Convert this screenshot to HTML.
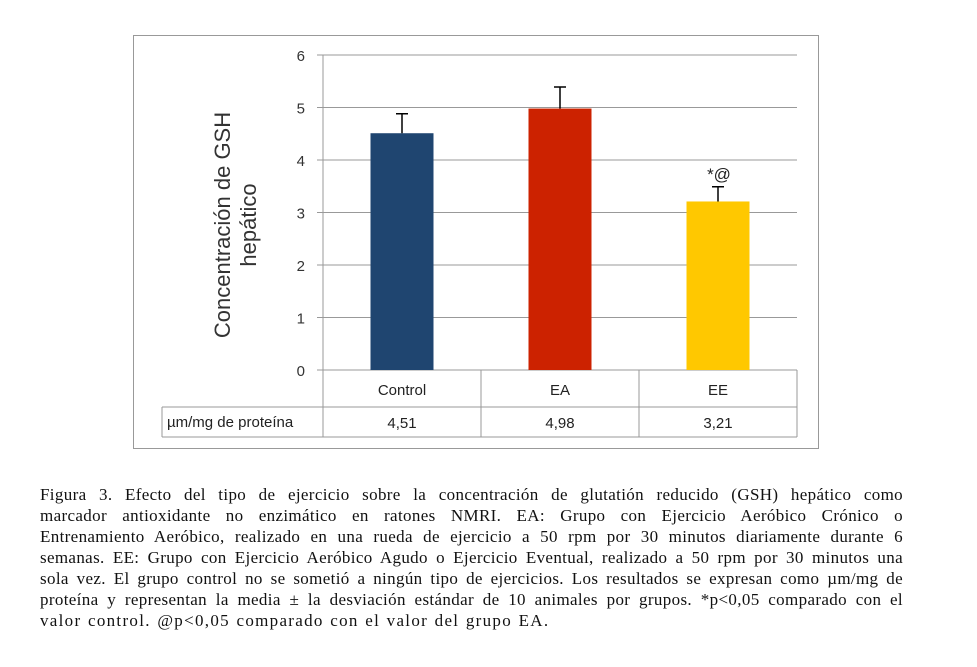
<!DOCTYPE html>
<html><head><meta charset="utf-8">
<style>
body{margin:0;width:977px;height:667px;background:#fff;overflow:hidden;position:relative;font-family:"Liberation Sans",sans-serif}
#cap{position:absolute;left:40px;top:484px;width:863px;font-family:"Liberation Serif",serif;font-size:16px;line-height:21px;color:#111;transform-origin:0 0}
#cap div{text-align:justify;text-align-last:justify;white-space:nowrap;letter-spacing:0.35px;word-spacing:-0.5px}
#cap div.last{text-align-last:left}
</style></head><body>
<svg id="chart" width="977" height="470" style="position:absolute;left:0;top:0" xmlns="http://www.w3.org/2000/svg"></svg>
<div id="cap">
<div style="font-size:17px">Figura 3. Efecto del tipo de ejercicio sobre la concentración de glutatión reducido (GSH) hepático como</div>
<div style="font-size:17px">marcador antioxidante no enzimático en ratones NMRI. EA: Grupo con Ejercicio Aeróbico Crónico o</div>
<div style="font-size:17px">Entrenamiento Aeróbico, realizado en una rueda de ejercicio a 50 rpm por 30 minutos diariamente durante 6</div>
<div style="font-size:17px">semanas. EE: Grupo con Ejercicio Aeróbico Agudo o Ejercicio Eventual, realizado a 50 rpm por 30 minutos una</div>
<div style="font-size:17px">sola vez. El grupo control no se sometió a ningún tipo de ejercicios. Los resultados se expresan como µm/mg de</div>
<div style="font-size:17px">proteína y representan la media ± la desviación estándar de 10 animales por grupos. *p&lt;0,05 comparado con el</div>
<div class="last" style="font-size:17px;letter-spacing:1.3px;word-spacing:1px">valor control. @p&lt;0,05 comparado con el valor del grupo EA.</div>
</div>
<script>
const categories=["Control","EA","EE"];
const values=[4.51,4.98,3.21];
const errTops=[4.88,5.39,3.49];
const valueLabels=["4,51","4,98","3,21"];
const colors=["#1f4570","#cc2200","#ffc800"];
const ticks=[0,1,2,3,4,5,6];
const annotations=["","","*@"];
const NS="http://www.w3.org/2000/svg";
const svg=document.getElementById('chart');
const X0=323,X1=797,Y0=370,Y6=55,colW=(X1-X0)/categories.length,barW=63;
function y(v){return Y0-(Y0-Y6)*v/6;}
function xc(i){return X0+colW*(i+0.5);}
function mk(t,a,txt){const e=document.createElementNS(NS,t);for(const k in a)e.setAttribute(k,a[k]);if(txt!==undefined)e.textContent=txt;svg.appendChild(e);return e;}
let fr=mk('rect',{x:133.5,y:35.5,width:685,height:413,fill:'#fff',stroke:'#999'});


ticks.forEach(t=>{
 let g=mk('line',{x1:317,x2:X1,y1:y(t),y2:y(t),stroke:'#999'});
 
 
 let l=mk('text',{x:305,y:y(t)+6,'text-anchor':'end','font-size':15,fill:'#333'},t);
 
 
});
let ax=mk('line',{x1:X0,x2:X0,y1:Y6,y2:437,stroke:'#999'});


categories.forEach((c,i)=>{
 let b=mk('rect',{x:xc(i)-barW/2,y:y(values[i]),width:barW,height:Y0-y(values[i]),fill:colors[i]});
 
 
 let e=mk('path',{d:`M${xc(i)} ${y(values[i])}V${y(errTops[i])}M${xc(i)-6} ${y(errTops[i])}H${xc(i)+6}`,stroke:'#000','stroke-width':1.5,fill:'none'});
 
 
 if(annotations[i]){let a=mk('text',{x:xc(i)+1,y:y(errTops[i])-7,'text-anchor':'middle','font-size':17,fill:'#222'},annotations[i]);
 
 }
 let cl=mk('text',{x:xc(i),y:395,'text-anchor':'middle','font-size':15,fill:'#222'},c);
 
 
 let vl=mk('text',{x:xc(i),y:428,'text-anchor':'middle','font-size':15,fill:'#222'},valueLabels[i]);
 
 
});
let tb=mk('path',{d:`M${X0} 370V437M${X0+colW} 370V437M${X0+2*colW} 370V437M${X1} 370V437M162 407H${X1}M162 437H${X1}M162 407V437`,stroke:'#999',fill:'none'});


let rl=mk('text',{x:167,y:427,'font-size':15,fill:'#222'},'µm/mg de proteína');


let yt=mk('text',{transform:'translate(230,225) rotate(-90)','text-anchor':'middle','font-size':22,fill:'#333'});


const t1=document.createElementNS(NS,'tspan');t1.setAttribute('x',0);t1.setAttribute('y',0);t1.textContent='Concentración de GSH';yt.appendChild(t1);
const t2=document.createElementNS(NS,'tspan');t2.setAttribute('x',0);t2.setAttribute('y',26);t2.textContent='hepático';yt.appendChild(t2);
</script>
</body></html>
